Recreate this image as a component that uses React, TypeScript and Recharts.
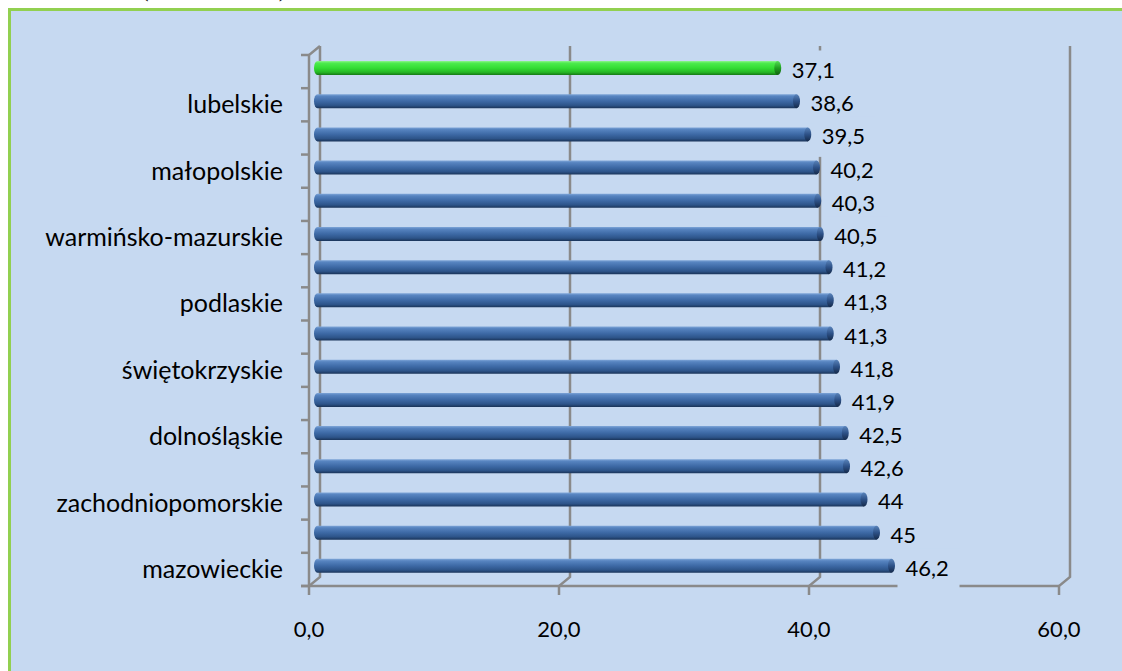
import React from 'react';
import { BarChart, Bar, XAxis, YAxis, CartesianGrid, LabelList } from 'recharts';

// Voivodeships, top to bottom
const regions = [
  'podkarpackie',
  'lubelskie',
  'kujawsko-pomorskie',
  'małopolskie',
  'opolskie',
  'warmińsko-mazurskie',
  'łódzkie',
  'podlaskie',
  'lubuskie',
  'świętokrzyskie',
  'śląskie',
  'dolnośląskie',
  'wielkopolskie',
  'zachodniopomorskie',
  'pomorskie',
  'mazowieckie',
];
const values = [37.1, 38.6, 39.5, 40.2, 40.3, 40.5, 41.2, 41.3, 41.3, 41.8, 41.9, 42.5, 42.6, 44, 45, 46.2];
// Only every second category carries a visible axis label
const labelledRegions = [
  'lubelskie',
  'małopolskie',
  'warmińsko-mazurskie',
  'podlaskie',
  'świętokrzyskie',
  'dolnośląskie',
  'zachodniopomorskie',
  'mazowieckie',
];
const highlightedRegion = 'podkarpackie';
const xTicks = [0, 20, 40, 60];
const xDomain: [number, number] = [0, 60];

const data = regions.map((name, i) => ({
  name,
  value: values[i],
  highlight: name === highlightedRegion,
}));

const W = 1122;
const H = 671;
const PLOT_TOP = 51;
const PLOT_BOTTOM = 582;
const PLOT_LEFT = 314;
const PLOT_RIGHT = 1064;
const Y_AXIS_W = 200;
const X_AXIS_H = 40;

const BG = '#C6D9F1';
const AXIS = '#8a8a8a';
const FONT = 'Lato, "DejaVu Sans", sans-serif';

// depth offsets of the pseudo-3D frame
const BACK_DX = 6;
const BACK_DY = -5;
const FRONT_DX = -5;
const FRONT_DY = 4;

const fmt = (v: number) => String(v).replace('.', ',');

const CylinderBar = (props: any) => {
  const { x, y, width, height, payload } = props;
  if (width == null || height == null) return null;
  const hi = payload && payload.highlight;
  const body = hi ? 'url(#barGreen)' : 'url(#barBlue)';
  const cap = hi ? 'url(#capGreen)' : 'url(#capBlue)';
  const r = 3.5;
  const ry = height / 2;
  const x0 = x;
  const x1 = x + width;
  return (
    <g>
      <path
        d={`M${x0 + r},${y} L${x1},${y} L${x1},${y + height} L${x0 + r},${y + height} A${r},${ry} 0 0 1 ${x0 + r},${y} Z`}
        fill={body}
      />
      <ellipse cx={x1} cy={y + ry} rx={r} ry={ry} fill={cap} />
    </g>
  );
};

const ValueLabel = (props: any) => {
  const { x, y, width, height, value } = props;
  const text = fmt(Number(value));
  const fs = 22;
  let tw = 0;
  for (const ch of text) tw += ch === ',' ? 0.26 * fs : 0.58 * fs;
  const tx = x + width + 14;
  const cy = y + height / 2;
  return (
    <g>
      <rect x={tx - 8} y={cy + 2.5 - 20} width={tw + 18} height={40} fill={BG} />
      <text x={tx} y={cy + 10} fontFamily={FONT} fontSize={fs} fill="#000">
        {text}
      </text>
    </g>
  );
};

const CategoryTick = (props: any) => {
  const { x, y, payload } = props;
  if (!labelledRegions.includes(payload.value)) return null;
  return (
    <text x={x - 31} y={y + 12.5} textAnchor="end" fontFamily={FONT} fontSize={25} fill="#000">
      {payload.value}
    </text>
  );
};

const ValueTick = (props: any) => {
  const { x, y, payload } = props;
  return (
    <text x={x + FRONT_DX} y={y + 55} textAnchor="middle" fontFamily={FONT} fontSize={22} fill="#000">
      {Number(payload.value).toFixed(1).replace('.', ',')}
    </text>
  );
};

// back-wall value line, folding down to the front floor edge with a tick below it
const renderVerticalLine = (p: any) => {
  const x = p.x1;
  const top = PLOT_TOP + BACK_DY;
  const backBottom = PLOT_BOTTOM + BACK_DY;
  const front = PLOT_BOTTOM + FRONT_DY;
  return (
    <path
      key={p.key ?? `v-${x}`}
      d={`M${x + BACK_DX},${top} L${x + BACK_DX},${backBottom} L${x + FRONT_DX},${front} L${x + FRONT_DX},${front + 9}`}
      stroke={AXIS}
      strokeWidth={2.5}
      fill="none"
    />
  );
};

// category boundary ticks on the front side wall, plus the front axes
const renderHorizontalLine = (p: any) => {
  const y = p.y1;
  const fx = PLOT_LEFT + FRONT_DX;
  const idx = p.index;
  const parts: React.ReactNode[] = [];
  parts.push(
    <line key="t" x1={fx - 8} y1={y + FRONT_DY} x2={fx} y2={y + FRONT_DY} stroke={AXIS} strokeWidth={2.5} />
  );
  if (idx === 0) {
    parts.push(
      <path
        key="ax"
        d={`M${PLOT_LEFT + BACK_DX},${PLOT_TOP + BACK_DY} L${fx},${PLOT_TOP + FRONT_DY} L${fx},${PLOT_BOTTOM + FRONT_DY}`}
        stroke={AXIS}
        strokeWidth={2.5}
        fill="none"
      />
    );
  }
  if (idx === regions.length) {
    parts.push(
      <line
        key="fx"
        x1={fx - 8}
        y1={PLOT_BOTTOM + FRONT_DY}
        x2={PLOT_RIGHT + FRONT_DX}
        y2={PLOT_BOTTOM + FRONT_DY}
        stroke={AXIS}
        strokeWidth={2.5}
      />
    );
  }
  return <g key={p.key ?? `h-${idx}`}>{parts}</g>;
};

const boundaryRows = ({ offset }: any) => {
  const top = offset && offset.top != null ? offset.top : PLOT_TOP;
  const h = offset && offset.height != null ? offset.height : PLOT_BOTTOM - PLOT_TOP;
  const n = regions.length;
  return Array.from({ length: n + 1 }, (_, i) => top + (h * i) / n);
};

export default function App() {
  return (
    <div style={{ position: 'absolute', left: 0, top: 0, width: W, height: H, overflow: 'hidden', background: '#fff' }}>
      <div
        style={{
          position: 'absolute',
          left: 140,
          top: -25,
          fontFamily: '"Liberation Serif", serif',
          fontSize: 26,
          lineHeight: '26px',
          whiteSpace: 'pre',
          color: '#000',
        }}
      >
        {'(2000 – 2002).'}
      </div>
      <div
        style={{
          position: 'absolute',
          left: 8,
          top: 8,
          width: 1200,
          height: 800,
          boxSizing: 'border-box',
          border: '3px solid #92D050',
          background: BG,
        }}
      />
      <svg width={0} height={0} style={{ position: 'absolute' }}>
        <defs>
          <linearGradient id="barBlue" x1="0" y1="0" x2="0" y2="1">
            <stop offset="0" stopColor="#7fa6d8" />
            <stop offset="0.15" stopColor="#5784c0" />
            <stop offset="0.5" stopColor="#3d69a5" />
            <stop offset="0.8" stopColor="#2d5489" />
            <stop offset="1" stopColor="#1a3459" />
          </linearGradient>
          <linearGradient id="capBlue" x1="0" y1="0" x2="0" y2="1">
            <stop offset="0" stopColor="#5a84bb" />
            <stop offset="0.5" stopColor="#2d5187" />
            <stop offset="1" stopColor="#152a4a" />
          </linearGradient>
          <linearGradient id="barGreen" x1="0" y1="0" x2="0" y2="1">
            <stop offset="0" stopColor="#8ff58f" />
            <stop offset="0.15" stopColor="#4deb4d" />
            <stop offset="0.5" stopColor="#33dd33" />
            <stop offset="0.8" stopColor="#25b825" />
            <stop offset="1" stopColor="#157815" />
          </linearGradient>
          <linearGradient id="capGreen" x1="0" y1="0" x2="0" y2="1">
            <stop offset="0" stopColor="#55dd55" />
            <stop offset="0.5" stopColor="#20a020" />
            <stop offset="1" stopColor="#106010" />
          </linearGradient>
        </defs>
      </svg>
      <div style={{ position: 'absolute', left: 0, top: 0 }}>
        <BarChart
          width={W}
          height={H}
          data={data}
          layout="vertical"
          margin={{
            top: PLOT_TOP,
            bottom: H - PLOT_BOTTOM - X_AXIS_H,
            left: PLOT_LEFT - Y_AXIS_W,
            right: W - PLOT_RIGHT,
          }}
        >
          <CartesianGrid
            vertical={renderVerticalLine}
            horizontal={renderHorizontalLine}
            horizontalCoordinatesGenerator={boundaryRows}
            stroke={AXIS}
          />
          <XAxis
            type="number"
            domain={xDomain}
            ticks={xTicks}
            height={X_AXIS_H}
            axisLine={false}
            tickLine={false}
            tickSize={0}
            tickMargin={0}
            tick={<ValueTick />}
            interval={0}
          />
          <YAxis
            type="category"
            dataKey="name"
            width={Y_AXIS_W}
            axisLine={false}
            tickLine={false}
            tickSize={0}
            tickMargin={0}
            interval={0}
            tick={<CategoryTick />}
          />
          <Bar dataKey="value" barSize={14} shape={<CylinderBar />} isAnimationActive={false}>
            <LabelList dataKey="value" content={<ValueLabel />} />
          </Bar>
        </BarChart>
      </div>
    </div>
  );
}
